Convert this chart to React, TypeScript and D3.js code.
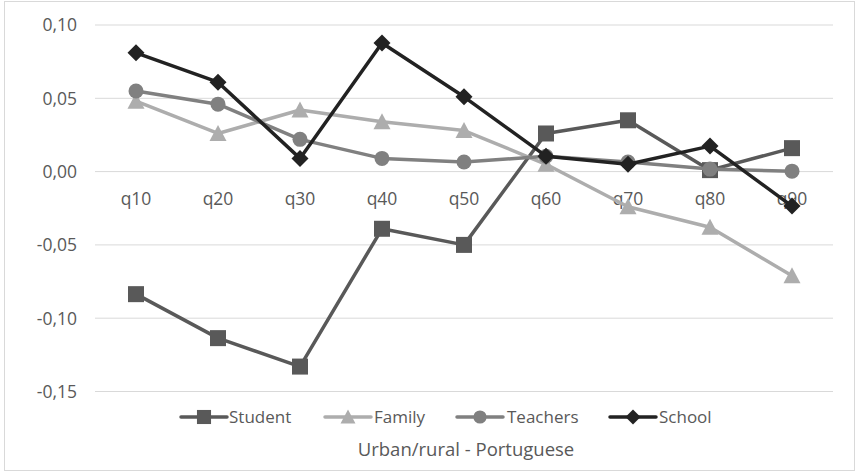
import React from "react";
import * as d3 from "d3";

const categories = ["q10", "q20", "q30", "q40", "q50", "q60", "q70", "q80", "q90"];
const student = [-0.0836, -0.1136, -0.133, -0.039, -0.05, 0.026, 0.035, 0.001, 0.016];
const family = [0.048, 0.026, 0.042, 0.034, 0.028, 0.005, -0.024, -0.038, -0.071];
const teachers = [0.055, 0.046, 0.022, 0.009, 0.0065, 0.0105, 0.0065, 0.0017, 0.0003];
const school = [0.081, 0.061, 0.009, 0.0877, 0.051, 0.0105, 0.005, 0.0174, -0.0235];
const yTicks = [0.1, 0.05, 0, -0.05, -0.1, -0.15];
const title = "Urban/rural - Portuguese";

type S = { name: string; values: number[]; color: string; marker: string };
const series: S[] = [
  { name: "Student", values: student, color: "#595959", marker: "square" },
  { name: "Family", values: family, color: "#adadad", marker: "triangle" },
  { name: "Teachers", values: teachers, color: "#808080", marker: "circle" },
  { name: "School", values: school, color: "#222222", marker: "diamond" },
];

const W = 859, H = 475;
const left = 95, right = 833, top = 25, bottom = 391.5;
const font = "'Open Sans', sans-serif";

function Marker({ type, x, y, color, s = 1 }: { type: string; x: number; y: number; color: string; s?: number }) {
  if (type === "square") return <rect x={x - 8 * s} y={y - 8 * s} width={16 * s} height={16 * s} fill={color} />;
  if (type === "circle") return <circle cx={x} cy={y} r={7.5 * s} fill={color} />;
  if (type === "triangle") {
    const p = d3.path();
    p.moveTo(x, y - 8.5 * s); p.lineTo(x + 8.5 * s, y + 7.5 * s); p.lineTo(x - 8.5 * s, y + 7.5 * s); p.closePath();
    return <path d={p.toString()} fill={color} />;
  }
  const p = d3.path();
  p.moveTo(x, y - 8.5 * s); p.lineTo(x + 8.5 * s, y); p.lineTo(x, y + 8.5 * s); p.lineTo(x - 8.5 * s, y); p.closePath();
  return <path d={p.toString()} fill={color} />;
}

export default function App() {
  const x = d3.scaleBand<string>().domain(categories).range([left, right]);
  const y = d3.scaleLinear().domain([-0.15, 0.1]).range([bottom, top]);
  const cx = (c: string) => (x(c) as number) + x.bandwidth() / 2;
  const line = d3.line<number>().x((_, i) => cx(categories[i])).y((v) => y(v));
  const fmt = (v: number) => d3.format(".2f")(v).replace(".", ",").replace("−", "-");

  const legendItems = [
    { lx: 181, tx: 229 },
    { lx: 325, tx: 374 },
    { lx: 457, tx: 507 },
    { lx: 610, tx: 659 },
  ];

  return (
    <svg width={W} height={H} style={{ position: "absolute", left: 0, top: 0 }} fontFamily={font}>
      <rect x={0} y={0} width={W} height={H} fill="#fff" />
      <rect x={4.5} y={1.5} width={W - 9} height={H - 6} fill="none" stroke="#d9d9d9" />
      {yTicks.map((t) => (
        <g key={t}>
          <line x1={left} x2={right} y1={y(t)} y2={y(t)} stroke="#d9d9d9" strokeWidth={1} />
          <text x={77} y={y(t)} dy="0.36em" textAnchor="end" fontSize={17.5} fill="#595959">{fmt(t)}</text>
        </g>
      ))}
      {categories.map((c) => (
        <text key={c} x={cx(c)} y={y(0) + 27} dy="0.36em" textAnchor="middle" fontSize={17.5} fill="#595959">{c}</text>
      ))}
      {series.map((s) => (
        <g key={s.name}>
          <path d={line(s.values) || ""} fill="none" stroke={s.color} strokeWidth={3.5} strokeLinejoin="round" />
          {s.values.map((v, i) => (
            <Marker key={i} type={s.marker} x={cx(categories[i])} y={y(v)} color={s.color} />
          ))}
        </g>
      ))}
      {series.map((s, i) => {
        const it = legendItems[i];
        const ly = 417;
        return (
          <g key={s.name}>
            <line x1={it.lx} x2={it.lx + 46} y1={ly} y2={ly} stroke={s.color} strokeWidth={3.5} strokeLinecap="round" />
            <Marker type={s.marker} x={it.lx + 23} y={ly} color={s.color} s={0.88} />
            <text x={it.tx} y={ly} dy="0.36em" fontSize={17} fill="#595959">{s.name}</text>
          </g>
        );
      })}
      <text x={466} y={449} dy="0.36em" textAnchor="middle" fontSize={18.5} fill="#595959">{title}</text>
    </svg>
  );
}
